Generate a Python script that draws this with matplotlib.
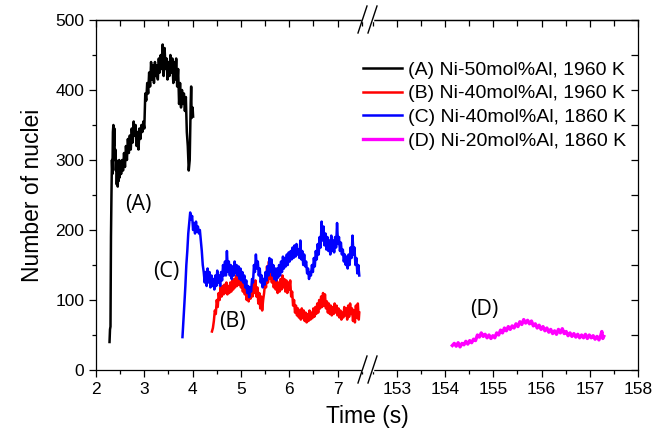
import numpy as np
import matplotlib
matplotlib.use('Agg')
import matplotlib.pyplot as plt
from matplotlib.ticker import MultipleLocator
from matplotlib.lines import Line2D

plt.rcParams['font.family'] = ['Liberation Sans', 'DejaVu Sans']

# (A) Ni-50mol%Al, 1960 K
t_a = [2.28, 2.29, 2.30, 2.31, 2.32, 2.33, 2.34, 2.35, 2.36, 2.37, 2.38, 2.39, 2.40,
       2.41, 2.42, 2.43, 2.44, 2.45, 2.46, 2.47, 2.48, 2.49, 2.50, 2.52, 2.54, 2.56,
       2.58, 2.60, 2.62, 2.64, 2.66, 2.68, 2.70, 2.72, 2.74, 2.76, 2.78, 2.80, 2.82,
       2.84, 2.86, 2.88, 2.90, 2.92, 2.94, 2.96, 2.98, 3.00, 3.02, 3.04, 3.06, 3.08,
       3.10, 3.12, 3.14, 3.16, 3.18, 3.20, 3.22, 3.24, 3.26, 3.28, 3.30, 3.32, 3.34,
       3.36, 3.38, 3.40, 3.42, 3.44, 3.46, 3.48, 3.50, 3.52, 3.54, 3.56, 3.58, 3.60,
       3.62, 3.64, 3.66, 3.68, 3.70, 3.72, 3.74, 3.76, 3.78, 3.80, 3.82, 3.84, 3.86,
       3.88, 3.90, 3.92, 3.94, 3.96, 3.97, 3.98, 4.00, 4.01]
n_a = [40, 58, 62, 190, 250, 300, 280, 340, 350, 320, 345, 300, 315,
       285, 300, 265, 290, 262, 295, 270, 300, 275, 295, 280, 300, 285,
       310, 290, 320, 300, 330, 310, 335, 315, 345, 325, 355, 335, 350,
       320, 340, 315, 345, 330, 350, 340, 355, 345, 395, 385, 410, 395,
       425, 405, 440, 415, 435, 410, 440, 420, 435, 415, 445, 425, 450,
       430, 465, 420, 460, 430, 445, 415, 440, 420, 450, 425, 445, 410,
       440, 415, 445, 405, 430, 380, 410, 375, 400, 380, 395, 370, 390,
       340, 320, 285, 300, 380, 405, 360, 375, 362]

# (B) Ni-40mol%Al, 1960 K
t_b = [4.40, 4.42, 4.44, 4.46, 4.48, 4.50, 4.52, 4.54, 4.56, 4.58, 4.60, 4.62, 4.64,
       4.66, 4.68, 4.70, 4.72, 4.74, 4.76, 4.78, 4.80, 4.82, 4.84, 4.86, 4.88, 4.90,
       4.92, 4.94, 4.96, 4.98, 5.00, 5.02, 5.04, 5.06, 5.08, 5.10, 5.12, 5.14, 5.16,
       5.18, 5.20, 5.22, 5.24, 5.26, 5.28, 5.30, 5.32, 5.34, 5.36, 5.38, 5.40, 5.42,
       5.44, 5.46, 5.48, 5.50, 5.52, 5.54, 5.56, 5.58, 5.60, 5.62, 5.64, 5.66, 5.68,
       5.70, 5.72, 5.74, 5.76, 5.78, 5.80, 5.82, 5.84, 5.86, 5.88, 5.90, 5.92, 5.94,
       5.96, 5.98, 6.00, 6.02, 6.04, 6.06, 6.08, 6.10, 6.12, 6.14, 6.16, 6.18, 6.20,
       6.22, 6.24, 6.26, 6.28, 6.30, 6.32, 6.34, 6.36, 6.38, 6.40, 6.42, 6.44, 6.46,
       6.48, 6.50, 6.52, 6.54, 6.56, 6.58, 6.60, 6.62, 6.64, 6.66, 6.68, 6.70, 6.72,
       6.74, 6.76, 6.78, 6.80, 6.82, 6.84, 6.86, 6.88, 6.90, 6.92, 6.94, 6.96, 6.98,
       7.00, 7.02, 7.04, 7.06, 7.08, 7.10, 7.12, 7.14, 7.16, 7.18, 7.20, 7.22, 7.24,
       7.26, 7.28, 7.30, 7.32, 7.34, 7.36, 7.38, 7.40, 7.42, 7.44, 7.45]
n_b = [55, 60, 70, 85, 80, 100, 90, 110, 100, 118, 105, 120, 108,
       122, 110, 125, 108, 120, 110, 125, 112, 128, 115, 130, 118, 135,
       120, 140, 122, 135, 118, 130, 112, 125, 108, 118, 100, 115, 98,
       110, 102, 115, 105, 125, 110, 128, 105, 118, 95, 110, 88, 105,
       85, 100, 110, 125, 118, 148, 125, 155, 130, 145, 125, 138, 118,
       132, 115, 128, 110, 125, 112, 130, 115, 135, 118, 130, 112, 128,
       110, 125, 115, 128, 105, 112, 92, 100, 82, 92, 78, 88, 75,
       85, 72, 88, 74, 85, 70, 82, 68, 80, 70, 85, 72, 82,
       74, 88, 76, 90, 80, 95, 82, 100, 88, 105, 90, 110, 92,
       108, 88, 98, 82, 95, 80, 92, 78, 90, 80, 95, 82, 92,
       78, 88, 75, 85, 72, 82, 75, 90, 78, 88, 72, 92, 76,
       95, 80, 88, 70, 85, 68, 92, 75, 95, 72, 82]

# (C) Ni-40mol%Al, 1860 K
t_c = [3.79, 3.81, 3.83, 3.85, 3.87, 3.89, 3.91, 3.93, 3.95, 3.97, 3.99, 4.01, 4.03,
       4.05, 4.07, 4.09, 4.11, 4.13, 4.15, 4.17, 4.19, 4.21, 4.23, 4.25, 4.27, 4.29,
       4.31, 4.33, 4.35, 4.37, 4.39, 4.41, 4.43, 4.45, 4.47, 4.49, 4.51, 4.53, 4.55,
       4.57, 4.59, 4.61, 4.63, 4.65, 4.67, 4.69, 4.71, 4.73, 4.75, 4.77, 4.79, 4.81,
       4.83, 4.85, 4.87, 4.89, 4.91, 4.93, 4.95, 4.97, 4.99, 5.01, 5.03, 5.05, 5.07,
       5.09, 5.11, 5.13, 5.15, 5.17, 5.19, 5.21, 5.23, 5.25, 5.27, 5.29, 5.31, 5.33,
       5.35, 5.37, 5.39, 5.41, 5.43, 5.45, 5.47, 5.49, 5.51, 5.53, 5.55, 5.57, 5.59,
       5.61, 5.63, 5.65, 5.67, 5.69, 5.71, 5.73, 5.75, 5.77, 5.79, 5.81, 5.83, 5.85,
       5.87, 5.89, 5.91, 5.93, 5.95, 5.97, 5.99, 6.01, 6.03, 6.05, 6.07, 6.09, 6.11,
       6.13, 6.15, 6.17, 6.19, 6.21, 6.23, 6.25, 6.27, 6.29, 6.31, 6.33, 6.35, 6.37,
       6.39, 6.41, 6.43, 6.45, 6.47, 6.49, 6.51, 6.53, 6.55, 6.57, 6.59, 6.61, 6.63,
       6.65, 6.67, 6.69, 6.71, 6.73, 6.75, 6.77, 6.79, 6.81, 6.83, 6.85, 6.87, 6.89,
       6.91, 6.93, 6.95, 6.97, 6.99, 7.01, 7.03, 7.05, 7.07, 7.09, 7.11, 7.13, 7.15,
       7.17, 7.19, 7.21, 7.23, 7.25, 7.27, 7.29, 7.31, 7.33, 7.35, 7.37, 7.39, 7.41,
       7.43, 7.45]
n_c = [47, 70, 95, 120, 150, 170, 195, 210, 225, 215, 220, 200, 210,
       195, 212, 198, 205, 195, 200, 185, 170, 150, 140, 125, 140, 120,
       145, 125, 140, 118, 135, 120, 130, 115, 135, 120, 142, 125, 135,
       120, 140, 128, 150, 135, 155, 135, 170, 140, 155, 135, 150, 130,
       148, 135, 155, 138, 150, 135, 148, 130, 145, 128, 140, 125, 135,
       118, 128, 110, 120, 104, 118, 112, 130, 125, 150, 140, 165, 145,
       155, 135, 145, 125, 135, 118, 130, 122, 140, 128, 148, 135, 160,
       140, 158, 135, 150, 130, 145, 128, 145, 132, 150, 135, 155, 140,
       162, 145, 160, 148, 165, 150, 168, 155, 170, 158, 175, 160, 178,
       162, 180, 165, 172, 160, 185, 158, 170, 150, 165, 148, 155, 138,
       145, 130, 140, 135, 150, 140, 160, 148, 170, 158, 180, 165, 190,
       175, 212, 185, 205, 178, 195, 172, 190, 170, 185, 165, 192, 170,
       185, 168, 190, 175, 210, 180, 190, 170, 182, 165, 172, 155, 165,
       150, 162, 145, 165, 150, 175, 160, 192, 165, 175, 150, 160, 138,
       150, 135]

# (D) Ni-20mol%Al, 1860 K
t_d = [154.15, 154.19, 154.23, 154.27, 154.31, 154.35, 154.39, 154.43, 154.47, 154.51,
       154.55, 154.59, 154.63, 154.67, 154.71, 154.75, 154.79, 154.83, 154.87, 154.91,
       154.95, 154.99, 155.03, 155.07, 155.11, 155.15, 155.19, 155.23, 155.27, 155.31,
       155.35, 155.39, 155.43, 155.47, 155.51, 155.55, 155.59, 155.63, 155.67, 155.71,
       155.75, 155.79, 155.83, 155.87, 155.91, 155.95, 155.99, 156.03, 156.07, 156.11,
       156.15, 156.19, 156.23, 156.27, 156.31, 156.35, 156.39, 156.43, 156.47, 156.51,
       156.55, 156.59, 156.63, 156.67, 156.71, 156.75, 156.79, 156.83, 156.87, 156.91,
       156.95, 156.99, 157.03, 157.07, 157.11, 157.15, 157.19, 157.23, 157.25, 157.27,
       157.29]
n_d = [35, 38, 34, 39, 33, 38, 36, 41, 37, 42,
       39, 44, 42, 50, 47, 53, 48, 51, 46, 50,
       45, 49, 46, 53, 50, 57, 53, 60, 56, 62,
       58, 63, 60, 66, 62, 69, 65, 72, 67, 71,
       66, 70, 63, 66, 60, 64, 58, 62, 56, 60,
       54, 58, 52, 56, 51, 58, 53, 59, 52, 55,
       49, 53, 48, 52, 47, 51, 46, 50, 46, 51,
       45, 50, 46, 49, 44, 48, 43, 50, 55, 45,
       48]

labels = ['(A) Ni-50mol%Al, 1960 K', '(B) Ni-40mol%Al, 1960 K',
          '(C) Ni-40mol%Al, 1860 K', '(D) Ni-20mol%Al, 1860 K']
colors = ['black', 'red', 'blue', 'magenta']

W, H = 667, 436
fig = plt.figure(figsize=(W / 100, H / 100), dpi=100)
left, right, top, bottom, brk = 96, 638, 20, 370, 367
ax1 = fig.add_axes([left / W, 1 - bottom / H, (brk - left) / W, (bottom - top) / H])
ax2 = fig.add_axes([brk / W, 1 - bottom / H, (right - brk) / W, (bottom - top) / H])

ax1.plot(t_a, n_a, color=colors[0], lw=1.8, label=labels[0])
ax1.plot(t_b, n_b, color=colors[1], lw=1.8, label=labels[1])
ax1.plot(t_c, n_c, color=colors[2], lw=1.8, label=labels[2])
ax2.plot(t_d, n_d, color=colors[3], lw=2.4, label=labels[3])

ax1.set_xlim(2, 7.61)
ax2.set_xlim(152.38, 158)
for ax in (ax1, ax2):
    ax.set_ylim(0, 500)
    ax.xaxis.set_major_locator(MultipleLocator(1))
    ax.xaxis.set_minor_locator(MultipleLocator(0.5))
    ax.yaxis.set_major_locator(MultipleLocator(100))
    ax.yaxis.set_minor_locator(MultipleLocator(50))
    ax.tick_params(axis='x', which='both', direction='out', top=False, labelsize=12.5)
    ax.tick_params(which='major', length=5, width=0.9)
    ax.tick_params(which='minor', length=3, width=0.9)
    for s in ax.spines.values():
        s.set_linewidth(0.9)
    sec = ax.secondary_xaxis('top')
    sec.xaxis.set_major_locator(MultipleLocator(1))
    sec.xaxis.set_minor_locator(MultipleLocator(0.5))
    sec.tick_params(which='both', direction='in', labeltop=False, width=0.9)
    sec.tick_params(which='major', length=5)
    sec.tick_params(which='minor', length=4)
    sec.spines['top'].set_linewidth(0.9)

ax1.spines['right'].set_visible(False)
ax2.spines['left'].set_visible(False)
ax1.tick_params(axis='y', which='both', direction='out', right=False, labelsize=12.5)
ax2.tick_params(axis='y', which='both', direction='in', left=False, right=True,
                labelleft=False)
ax2.tick_params(axis='y', which='minor', length=5)

ax1.set_ylabel('Number of nuclei', fontsize=16.5, labelpad=8)
fig.text(brk / W, 1 - 416 / H, 'Time (s)', fontsize=16.5, ha='center', va='center')

ann = dict(fontsize=15.5, family=['Open Sans', 'DejaVu Sans'], ha='center', va='center')
ax1.text(2.87, 237, '(A)', **ann)
ax1.text(3.45, 141, '(C)', **ann)
ax1.text(4.83, 70, '(B)', **ann)
ax2.text(154.81, 86, '(D)', **ann)

handles = ax1.get_lines() + ax2.get_lines()
fig.legend(handles, labels, loc='upper left', bbox_to_anchor=(363 / W, 1 - 61 / H),
           frameon=False, fontsize=14, handlelength=2.0, handletextpad=0.3,
           labelspacing=0.32, borderpad=0, borderaxespad=0)

# break marks on the axis
for y in (top, bottom):
    fig.add_artist(Line2D([363 / W, 372 / W], [1 - y / H, 1 - y / H], color='white',
                          lw=2.5, zorder=10))
    for x0 in (358, 368):
        fig.add_artist(Line2D([x0 / W, (x0 + 9) / W], [1 - (y + 13) / H, 1 - (y - 14) / H],
                              color='black', lw=1.0, zorder=11))

plt.savefig('out.png', dpi=100)
